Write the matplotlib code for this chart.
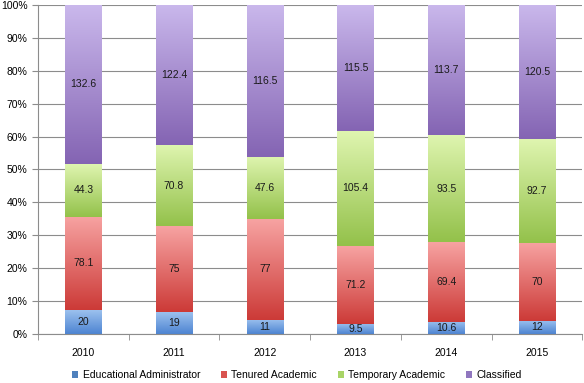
import numpy as np
import matplotlib
matplotlib.use("Agg")
import matplotlib.pyplot as plt
from matplotlib.colors import LinearSegmentedColormap
from matplotlib.ticker import PercentFormatter

# ─────────── data ───────────────────────────────────────────────────────────
years      = ["2010", "2011", "2012", "2013", "2014", "2015"]
edu_admin  = [20, 19, 11, 9.5, 10.6, 12]
tenured    = [78.1, 75, 77, 71.2, 69.4, 70]
temporary  = [44.3, 70.8, 47.6, 105.4, 93.5, 92.7]
classified = [132.6, 122.4, 116.5, 115.5, 113.7, 120.5]
series_names = ["Educational Administrator", "Tenured Academic",
                "Temporary Academic", "Classified"]

# (top colour, bottom colour, legend colour)
COLOURS = [("#9cc1ee", "#4d84d2", "#4f81bd"),
           ("#f7a3a2", "#cc3a37", "#d9534f"),
           ("#dff5b0", "#93c14a", "#a9d467"),
           ("#cab8ec", "#8464b3", "#9077bf")]

plt.rcParams["font.family"] = ["Liberation Sans", "DejaVu Sans"]

series = [edu_admin, tenured, temporary, classified]
totals = np.sum(series, axis=0)
shares = [np.array(s) / totals for s in series]

fig = plt.figure(figsize=(5.84, 3.83), dpi=100)
ax = fig.add_axes([0.065, 0.128, 0.932, 0.859])
x = np.arange(len(years))

grad = np.linspace(1, 0, 256).reshape(-1, 1)
bottom = np.zeros(len(years))
for vals, share, name, (top_c, bot_c, leg_c) in zip(series, shares, series_names, COLOURS):
    bars = ax.bar(x, share, 0.4, bottom=bottom, color=leg_c, label=name,
                  zorder=2, linewidth=0)
    cmap = LinearSegmentedColormap.from_list(name, [bot_c, top_c])
    for b, v in zip(bars, vals):
        bx, by = b.get_x(), b.get_y()
        bw, bh = b.get_width(), b.get_height()
        im = ax.imshow(grad, extent=[bx, bx + bw, by, by + bh], cmap=cmap,
                       aspect="auto", origin="upper", zorder=2.5,
                       interpolation="bilinear")
        im.set_clip_path(b)
        ax.text(bx + bw / 2, by + bh / 2, f"{v:g}", ha="center", va="center",
                fontsize=7.5, color="#1a1a1a", zorder=3)
    bottom += share

ax.set_xlim(-0.5, len(years) - 0.5)
ax.set_ylim(0, 1)
ax.set_aspect("auto")
ax.yaxis.set_major_formatter(PercentFormatter(1.0, decimals=0))
ax.set_yticks(np.linspace(0, 1, 11))
ax.grid(axis="y", color="#8c8c8c", linewidth=0.8, zorder=0)
ax.set_axisbelow(True)

ax.set_xticks(x)
ax.set_xticklabels(years)
ax.set_xticks(np.arange(-0.5, len(years)), minor=True)
ax.tick_params(axis="x", which="major", length=0, pad=10, labelsize=7.5)
ax.tick_params(axis="x", which="minor", length=4, color="#8c8c8c")
ax.tick_params(axis="y", length=4, color="#8c8c8c", labelsize=7.5)

for side in ["top", "right"]:
    ax.spines[side].set_visible(False)
for side in ["left", "bottom"]:
    ax.spines[side].set_color("#8c8c8c")

ax.legend(loc="center", bbox_to_anchor=(0.476, -0.125), ncol=4,
          frameon=False, fontsize=7.5, handlelength=0.6, handleheight=0.6,
          columnspacing=2.0, handletextpad=0.4, borderpad=0)

fig.savefig("out.png", dpi=100)
